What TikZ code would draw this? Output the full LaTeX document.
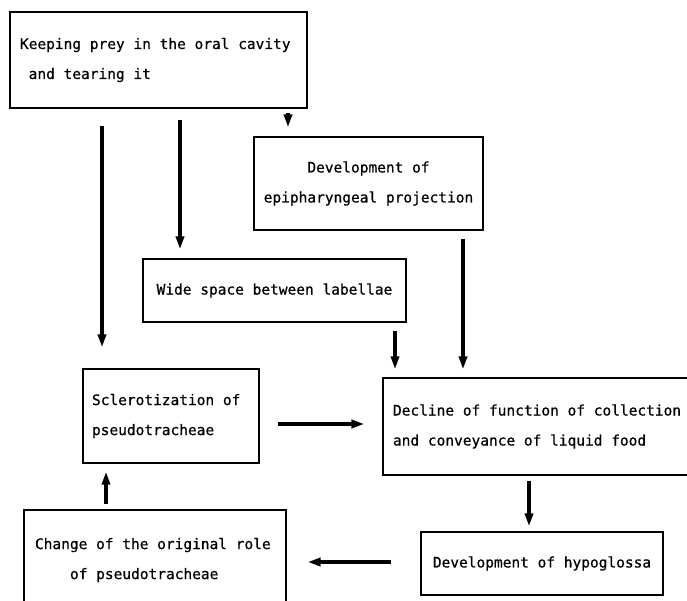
\documentclass[tikz,border=0pt]{standalone}
\usepackage{fontspec}
\newfontfamily\boxfont[FakeBold=0.6]{DejaVu Sans Mono}
\usetikzlibrary{arrows.meta}
\begin{document}
\begin{tikzpicture}[x=1pt, y=-1pt,
	box/.style={draw, line width=1.2pt, inner sep=0pt, font=\boxfont\fontsize{14.5}{30}\selectfont,
		execute at begin node={\spaceskip=0.602em\relax}},
	arr/.style={-{Triangle[length=13pt, width=8pt]}, line width=3.5pt}]

						\useasboundingbox (0,0) rectangle (687,601);
						\clip (0,0) rectangle (687,601);

						\node[box, minimum width=297, minimum height=96, text width=277, align=left] (K) at (158.5,60)
							{Keeping prey in the oral cavity\\\hspace*{8.7pt}and tearing it};
						\node[box, minimum width=229, minimum height=93, align=center] (E) at (368.5,183.5)
							{Development of\\epipharyngeal projection};
						\node[box, minimum width=263, minimum height=63, align=center] (W) at (274.5,290.5)
							{Wide space between labellae};
						\node[box, minimum width=176, minimum height=94, text width=158, align=left] (S) at (171,416)
							{Sclerotization of\\pseudotracheae};
						\node[box, minimum width=337, minimum height=97, text width=317, align=left] (D) at (551.5,426.5)
							{Decline of function of collection\\and conveyance of liquid food};
						\node[box, minimum width=242, minimum height=63, align=center] (H) at (542,563.5)
							{Development of hypoglossa};
						\node[box, minimum width=262, minimum height=100, text width=240, align=left] (C) at (155,560)
							{Change of the original role\\\hspace*{35pt}of pseudotracheae};

						\coordinate (c1) at (102,0);
						\coordinate (c2) at (180,0);
						\coordinate (c3) at (288,0);
						\coordinate (c4) at (463,0);
						\coordinate (c5) at (395,0);
						\coordinate (c6) at (529,0);
						\coordinate (c7) at (106,0);
						\coordinate (r1) at (0,424);
						\coordinate (r2) at (0,562);

						\draw[arr, shorten <=17pt, shorten >=21pt] (K.south -| c1) -- (S.north -| c1);
						\draw[arr, shorten <=11pt, shorten >=9pt] (K.south -| c2) -- (W.north -| c2);
						\draw[arr, shorten <=4pt, shorten >=9pt] (K.south -| c3) -- (E.north -| c3);
						\draw[arr, shorten <=8pt, shorten >=8pt] (E.south -| c4) -- (D.north -| c4);
						\draw[arr, shorten <=8pt, shorten >=8pt] (W.south -| c5) -- (D.north -| c5);
						\draw[arr, shorten <=18pt, shorten >=18pt] (S.east |- r1) -- (D.west |- r1);
						\draw[arr, shorten <=5pt, shorten >=5pt] (D.south -| c6) -- (H.north -| c6);
						\draw[arr, shorten <=29pt, shorten >=21pt] (H.west |- r2) -- (C.east |- r2);
						\draw[arr, shorten <=5pt, shorten >=8pt] (C.north -| c7) -- (S.south -| c7);

					\end{tikzpicture}
\end{document}
